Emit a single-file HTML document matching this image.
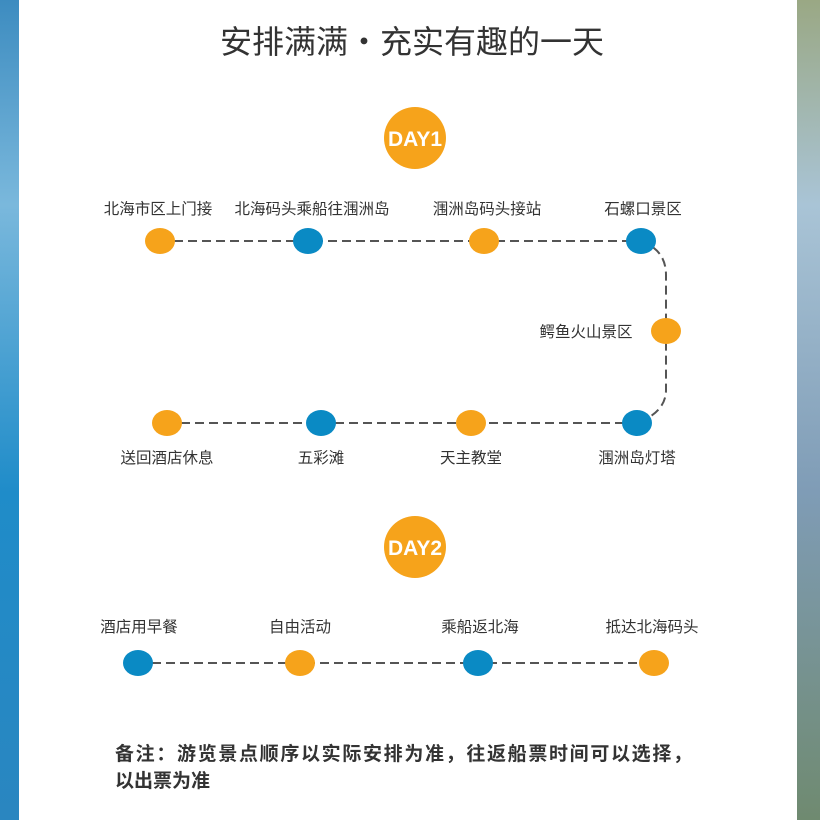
<!DOCTYPE html>
<html><head><meta charset="utf-8"><style>
html,body{margin:0;padding:0;width:820px;height:820px;overflow:hidden;background:#fff}
svg{display:block}
text{font-family:"Liberation Sans","Noto Sans CJK SC",sans-serif;fill:#333}
</style></head><body>
<svg width="820" height="820" viewBox="0 0 820 820">
<defs>
<linearGradient id="lg" x1="0" y1="0" x2="0" y2="1">
<stop offset="0" stop-color="#3d8cc0"/><stop offset="0.25" stop-color="#7ab8dc"/><stop offset="0.6" stop-color="#1f8cc9"/><stop offset="1" stop-color="#2a86c0"/></linearGradient>
<linearGradient id="rg" x1="0" y1="0" x2="0" y2="1">
<stop offset="0" stop-color="#9aa884"/><stop offset="0.25" stop-color="#a9c4d6"/><stop offset="0.6" stop-color="#7f9cb6"/><stop offset="1" stop-color="#6f8a70"/></linearGradient>
</defs>
<rect x="0" y="0" width="19" height="820" fill="url(#lg)"/>
<rect x="797" y="0" width="23" height="820" fill="url(#rg)"/>
<text x="412" y="53" font-size="32" text-anchor="middle" fill="#333">安排满满・充实有趣的一天</text>

<circle cx="415" cy="138" r="31" fill="#f6a31b"/>
<text x="415" y="146" font-size="21" font-weight="bold" text-anchor="middle" style="fill:#fff">DAY1</text>
<circle cx="415" cy="547" r="31" fill="#f6a31b"/>
<text x="415" y="555" font-size="21" font-weight="bold" text-anchor="middle" style="fill:#fff">DAY2</text>

<g stroke="#555" stroke-width="2" stroke-dasharray="9,5" fill="none">
<line x1="160" y1="241" x2="641" y2="241"/>
<path d="M641 241 Q666 250 666 275 L666 390 Q666 412 637 423"/>
<line x1="167" y1="423" x2="637" y2="423"/>
<line x1="138" y1="663" x2="654" y2="663"/>
</g>
<g>
<ellipse cx="160" cy="241" rx="15" ry="13" fill="#f6a31b"/>
<ellipse cx="308" cy="241" rx="15" ry="13" fill="#0a8ac4"/>
<ellipse cx="484" cy="241" rx="15" ry="13" fill="#f6a31b"/>
<ellipse cx="641" cy="241" rx="15" ry="13" fill="#0a8ac4"/>
<ellipse cx="666" cy="331" rx="15" ry="13" fill="#f6a31b"/>
<ellipse cx="167" cy="423" rx="15" ry="13" fill="#f6a31b"/>
<ellipse cx="321" cy="423" rx="15" ry="13" fill="#0a8ac4"/>
<ellipse cx="471" cy="423" rx="15" ry="13" fill="#f6a31b"/>
<ellipse cx="637" cy="423" rx="15" ry="13" fill="#0a8ac4"/>
<ellipse cx="138" cy="663" rx="15" ry="13" fill="#0a8ac4"/>
<ellipse cx="300" cy="663" rx="15" ry="13" fill="#f6a31b"/>
<ellipse cx="478" cy="663" rx="15" ry="13" fill="#0a8ac4"/>
<ellipse cx="654" cy="663" rx="15" ry="13" fill="#f6a31b"/>
</g>
<g font-size="15.5" text-anchor="middle">
<text x="158" y="214">北海市区上门接</text>
<text x="312" y="214">北海码头乘船往涠洲岛</text>
<text x="487" y="214">涠洲岛码头接站</text>
<text x="643" y="214">石螺口景区</text>
<text x="586" y="337">鳄鱼火山景区</text>
<text x="167" y="463">送回酒店休息</text>
<text x="321" y="463">五彩滩</text>
<text x="471" y="463">天主教堂</text>
<text x="637" y="463">涠洲岛灯塔</text>
<text x="139" y="632">酒店用早餐</text>
<text x="300" y="632">自由活动</text>
<text x="480" y="632">乘船返北海</text>
<text x="652" y="632">抵达北海码头</text>
</g>
<text x="115" y="760" font-size="19" font-weight="bold" textLength="577">备注：游览景点顺序以实际安排为准，往返船票时间可以选择，</text>
<text x="115" y="787" font-size="19" font-weight="bold">以出票为准</text>
</svg>
</body></html>
